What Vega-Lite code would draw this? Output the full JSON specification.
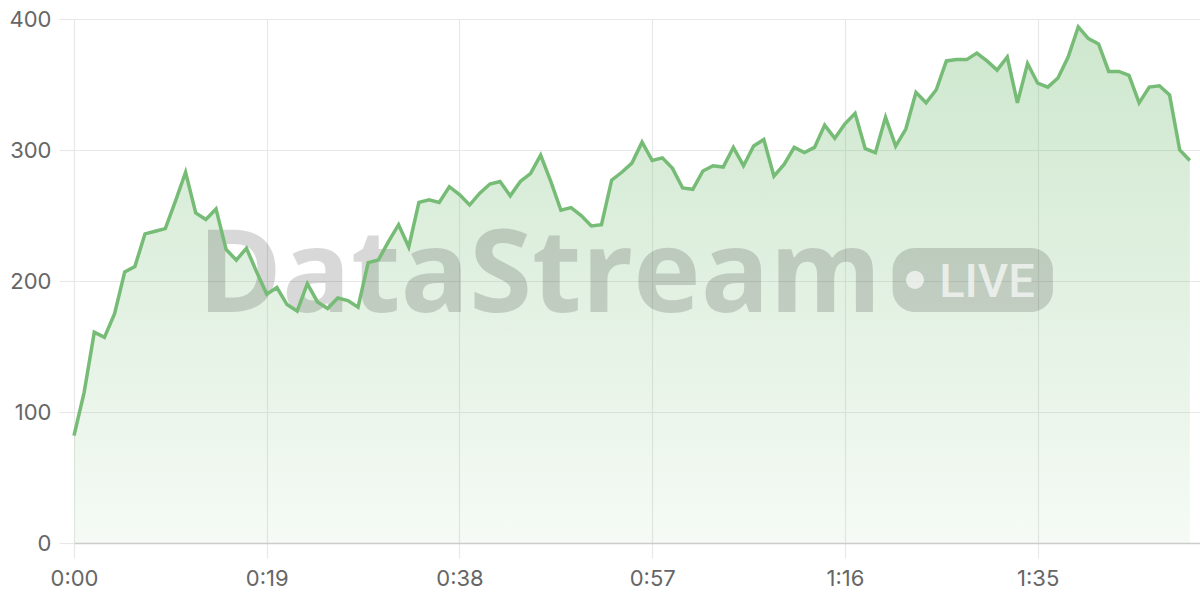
{
  "$schema": "https://vega.github.io/schema/vega-lite/v6.json",
  "width": 1126,
  "height": 524,
  "autosize": {"type": "none"},
  "padding": {"left": 74, "top": 19, "right": 0, "bottom": 57},
  "background": "#ffffff",
  "config": {
    "view": {"stroke": null},
    "font": "Inter",
    "axis": {
      "labelFont": "Inter",
      "labelFontSize": 22,
      "labelColor": "#666666",
      "labelFlush": false,
      "gridColor": "#e8e8e8",
      "gridWidth": 1.2,
      "tickColor": "#e8e8e8",
      "tickWidth": 1.2,
      "tickSize": 15,
      "title": null
    }
  },
  "datasets": {
    "series": [
      {"t": 0, "v": 82}, {"t": 1, "v": 115}, {"t": 2, "v": 161}, {"t": 3, "v": 157}, {"t": 4, "v": 175},
      {"t": 5, "v": 207}, {"t": 6, "v": 211}, {"t": 7, "v": 236}, {"t": 8, "v": 238}, {"t": 9, "v": 240},
      {"t": 10, "v": 261}, {"t": 11, "v": 283}, {"t": 12, "v": 252}, {"t": 13, "v": 247}, {"t": 14, "v": 255},
      {"t": 15, "v": 224}, {"t": 16, "v": 216}, {"t": 17, "v": 225}, {"t": 18, "v": 207}, {"t": 19, "v": 190},
      {"t": 20, "v": 195}, {"t": 21, "v": 182}, {"t": 22, "v": 177}, {"t": 23, "v": 198}, {"t": 24, "v": 184},
      {"t": 25, "v": 179}, {"t": 26, "v": 187}, {"t": 27, "v": 185}, {"t": 28, "v": 180}, {"t": 29, "v": 214},
      {"t": 30, "v": 216}, {"t": 31, "v": 230}, {"t": 32, "v": 243}, {"t": 33, "v": 226}, {"t": 34, "v": 260},
      {"t": 35, "v": 262}, {"t": 36, "v": 260}, {"t": 37, "v": 272}, {"t": 38, "v": 266}, {"t": 39, "v": 258},
      {"t": 40, "v": 267}, {"t": 41, "v": 274}, {"t": 42, "v": 276}, {"t": 43, "v": 265}, {"t": 44, "v": 276},
      {"t": 45, "v": 282}, {"t": 46, "v": 296}, {"t": 47, "v": 276}, {"t": 48, "v": 254}, {"t": 49, "v": 256},
      {"t": 50, "v": 250}, {"t": 51, "v": 242}, {"t": 52, "v": 243}, {"t": 53, "v": 277}, {"t": 54, "v": 283},
      {"t": 55, "v": 290}, {"t": 56, "v": 306}, {"t": 57, "v": 292}, {"t": 58, "v": 294}, {"t": 59, "v": 286},
      {"t": 60, "v": 271}, {"t": 61, "v": 270}, {"t": 62, "v": 284}, {"t": 63, "v": 288}, {"t": 64, "v": 287},
      {"t": 65, "v": 302}, {"t": 66, "v": 288}, {"t": 67, "v": 303}, {"t": 68, "v": 308}, {"t": 69, "v": 280},
      {"t": 70, "v": 289}, {"t": 71, "v": 302}, {"t": 72, "v": 298}, {"t": 73, "v": 302}, {"t": 74, "v": 319},
      {"t": 75, "v": 309}, {"t": 76, "v": 320}, {"t": 77, "v": 328}, {"t": 78, "v": 301}, {"t": 79, "v": 298},
      {"t": 80, "v": 325}, {"t": 81, "v": 303}, {"t": 82, "v": 316}, {"t": 83, "v": 344}, {"t": 84, "v": 336},
      {"t": 85, "v": 346}, {"t": 86, "v": 368}, {"t": 87, "v": 369}, {"t": 88, "v": 369}, {"t": 89, "v": 374},
      {"t": 90, "v": 368}, {"t": 91, "v": 361}, {"t": 92, "v": 371}, {"t": 93, "v": 336}, {"t": 94, "v": 366},
      {"t": 95, "v": 351}, {"t": 96, "v": 348}, {"t": 97, "v": 355}, {"t": 98, "v": 371}, {"t": 99, "v": 394},
      {"t": 100, "v": 385}, {"t": 101, "v": 381}, {"t": 102, "v": 360}, {"t": 103, "v": 360}, {"t": 104, "v": 357},
      {"t": 105, "v": 336}, {"t": 106, "v": 348}, {"t": 107, "v": 349}, {"t": 108, "v": 342}, {"t": 109, "v": 300},
      {"t": 110, "v": 292}
    ],
    "badge": [{"x0": 80.7, "x1": 96.5, "y0": 176.3, "y1": 225.2}],
    "marks": [{"label": "DataStream", "tx": 45.9, "ty": 176.3, "lx": 90.0, "ly": 188, "dx": 82.9, "dy": 200.8}]
  },
  "layer": [
    {
      "data": {"name": "series"},
      "mark": {
        "type": "area",
        "color": {
          "gradient": "linear",
          "x1": 0, "y1": 0, "x2": 0, "y2": 1,
          "stops": [
            {"offset": 0, "color": "rgba(118,188,118,0.36)"},
            {"offset": 1, "color": "rgba(118,188,118,0.07)"}
          ]
        }
      },
      "encoding": {
        "x": {
          "field": "t", "type": "quantitative",
          "scale": {"domain": [0, 111], "nice": false, "zero": false},
          "axis": {
            "values": [0, 19, 38, 57, 76, 95],
            "labelExpr": "floor(datum.value/60) + ':' + (datum.value%60 < 10 ? '0' : '') + (datum.value%60)",
            "domainColor": "#cccccc",
            "domainWidth": 1.5,
            "labelPadding": 10,
            "grid": true
          }
        },
        "y": {
          "field": "v", "type": "quantitative",
          "scale": {"domain": [0, 400], "nice": false},
          "axis": {
            "values": [0, 100, 200, 300, 400],
            "domain": false,
            "labelPadding": 8,
            "grid": true
          }
        }
      }
    },
    {
      "data": {"name": "badge"},
      "mark": {"type": "rect", "color": "#000000", "opacity": 0.15, "cornerRadius": 22},
      "encoding": {
        "x": {"field": "x0", "type": "quantitative"},
        "x2": {"field": "x1"},
        "y": {"field": "y0", "type": "quantitative"},
        "y2": {"field": "y1"}
      }
    },
    {
      "data": {"name": "marks"},
      "mark": {"type": "text", "font": "Open Sans", "fontWeight": "bold", "fontSize": 114, "align": "center", "baseline": "alphabetic", "color": "#000000", "opacity": 0.15},
      "encoding": {
        "x": {"field": "tx", "type": "quantitative"},
        "y": {"field": "ty", "type": "quantitative"},
        "text": {"field": "label"}
      }
    },
    {
      "data": {"name": "marks"},
      "mark": {"type": "text", "font": "Roboto", "fontWeight": 500, "fontSize": 47, "align": "center", "baseline": "alphabetic", "color": "#ffffff", "opacity": 0.65},
      "encoding": {
        "x": {"field": "lx", "type": "quantitative"},
        "y": {"field": "ly", "type": "quantitative"},
        "text": {"value": "LIVE"}
      }
    },
    {
      "data": {"name": "marks"},
      "mark": {"type": "point", "shape": "circle", "filled": true, "size": 330, "color": "#ffffff", "opacity": 0.65},
      "encoding": {
        "x": {"field": "dx", "type": "quantitative"},
        "y": {"field": "dy", "type": "quantitative"}
      }
    },
    {
      "data": {"name": "series"},
      "mark": {"type": "line", "color": "#76bc76", "strokeWidth": 3.5, "strokeJoin": "miter"},
      "encoding": {
        "x": {"field": "t", "type": "quantitative"},
        "y": {"field": "v", "type": "quantitative"}
      }
    }
  ]
}
